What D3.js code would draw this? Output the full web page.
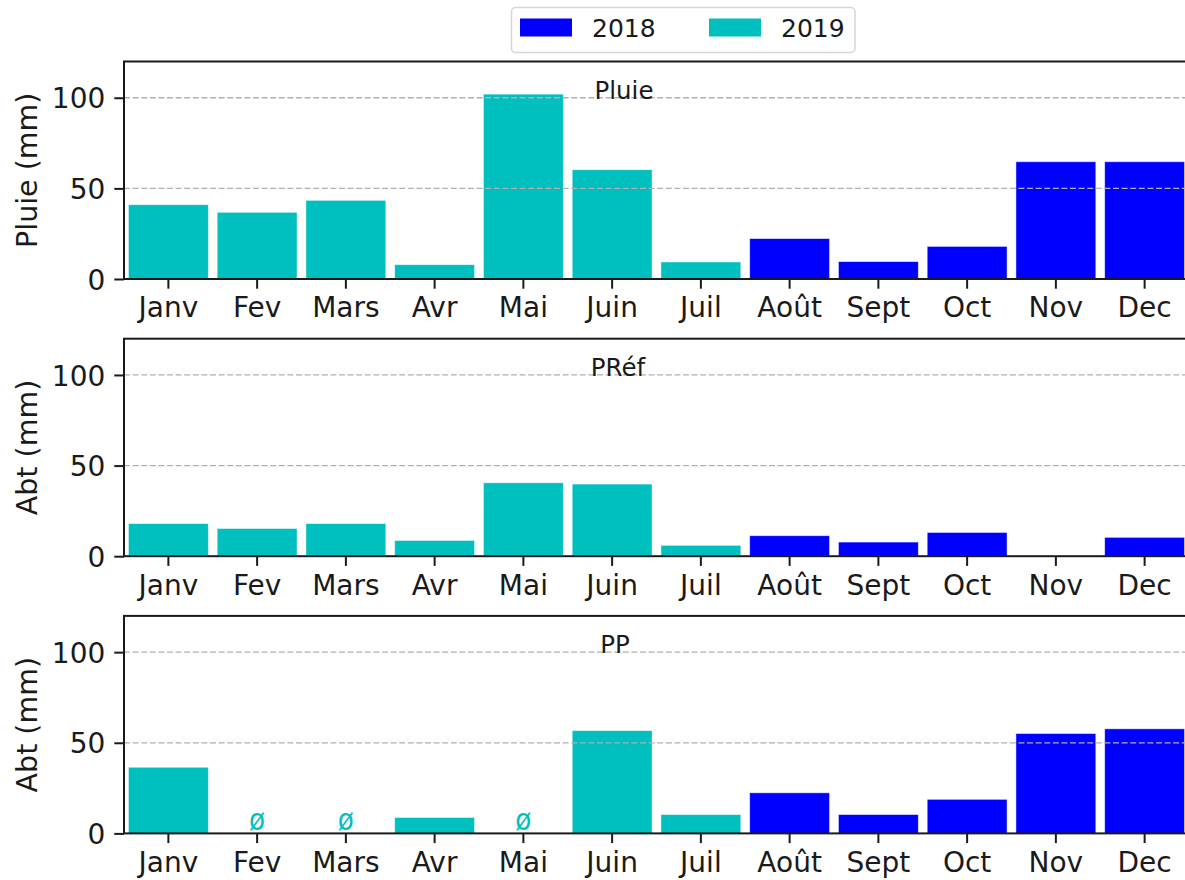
<!DOCTYPE html>
<html>
<head>
<meta charset="utf-8">
<script src="https://cdn.jsdelivr.net/npm/d3@7"></script>
<style>
  html, body { margin: 0; padding: 0; background: #fff; overflow: hidden; }
  svg { display: block; font-family: "DejaVu Sans", sans-serif; }
</style>
</head>
<body>
<svg id="chart" width="1185" height="880"></svg>
<script>
// Monthly totals (mm), campaign running from Janv 2019 back to Août–Dec 2018
const months = ["Janv", "Fev", "Mars", "Avr", "Mai", "Juin", "Juil", "Août", "Sept", "Oct", "Nov", "Dec"];
const monthYear = [2019, 2019, 2019, 2019, 2019, 2019, 2019, 2018, 2018, 2018, 2018, 2018];
const years = [2018, 2019];
const yearColors = ["#0000ff", "#00bfbf"];

const pluie = [41.0, 36.8, 43.4, 7.9, 102.0, 60.3, 9.4, 22.3, 9.6, 18.0, 64.7, 64.7];
const pref  = [18.0, 15.3, 18.0, 8.7, 40.5, 39.8, 6.0, 11.3, 7.8, 13.1, null, 10.4];
const pp    = [36.5, 0, 0, 8.8, 0, 56.7, 10.4, 22.4, 10.4, 18.8, 55.1, 57.7];

const panelTitles = ["Pluie", "PRéf", "PP"];
const panelYLabels = ["Pluie (mm)", "Abt (mm)", "Abt (mm)"];
const panelSeries = [pluie, pref, pp];
const yTicks = [0, 50, 100];
const yMax = 120;

// ---- layout ----
const left = 124, right = 1189;
const panelTop0 = 61.5, panelStep = 277.2, panelH = 217.5;
const titleX = [624, 618, 615];
const tickFont = 28, labelFont = 28.5, titleFont = 24.5, legendFont = 25;
const ink = "#1a1a1a";

const svg = d3.select("#chart");
const color = d3.scaleOrdinal().domain(years).range(yearColors);

const x = d3.scaleBand()
  .domain(months)
  .range([left, right])
  .paddingInner(0.1)
  .paddingOuter(0.05);

panelSeries.forEach((series, i) => {
  const top = panelTop0 + i * panelStep;
  const bottom = top + panelH;
  const y = d3.scaleLinear().domain([0, yMax]).range([bottom, top]);
  const g = svg.append("g");

  const rows = months.map((m, k) => ({ m, v: series[k], year: monthYear[k] }));

  // bars
  g.selectAll("rect.bar")
    .data(rows.filter(d => d.v != null && d.v > 0))
    .join("rect")
    .attr("class", "bar")
    .attr("x", d => x(d.m))
    .attr("width", x.bandwidth())
    .attr("y", d => y(d.v))
    .attr("height", d => y(0) - y(d.v))
    .attr("fill", d => color(d.year))
    .attr("stroke", "#ffffff")
    .attr("stroke-opacity", 0.6)
    .attr("stroke-width", 0.8);

  // empty-month markers
  g.selectAll("text.empty")
    .data(rows.filter(d => d.v === 0))
    .join("text")
    .attr("class", "empty")
    .attr("transform", d => `translate(${x(d.m) + x.bandwidth() / 2},${y(0) - 3}) scale(0.85,1)`)
    .attr("text-anchor", "middle")
    .attr("font-size", 31)
    .attr("fill", d => color(d.year))
    .text("ø");

  // dashed horizontal grid, above the bars
  g.selectAll("line.grid")
    .data(yTicks.filter(t => t > 0))
    .join("line")
    .attr("class", "grid")
    .attr("x1", left).attr("x2", right)
    .attr("y1", d => y(d)).attr("y2", d => y(d))
    .attr("stroke", "#b0b0b0")
    .attr("stroke-width", 1.3)
    .attr("stroke-dasharray", "6,2.6");

  // panel title sitting on the 100 line
  g.append("text")
    .attr("x", titleX[i])
    .attr("y", y(100) + 1)
    .attr("text-anchor", "middle")
    .attr("font-size", titleFont)
    .attr("fill", ink)
    .text(panelTitles[i]);

  // y axis
  const yAxis = d3.axisLeft(y).tickValues(yTicks).tickSize(9.7).tickPadding(9);
  const ya = g.append("g").attr("transform", `translate(${left},0)`).call(yAxis);
  ya.select(".domain").remove();
  ya.selectAll(".tick line").attr("stroke", ink).attr("stroke-width", 2);
  ya.selectAll(".tick text")
    .attr("font-size", tickFont)
    .attr("font-family", "DejaVu Sans")
    .attr("fill", ink)
    .attr("dy", "0.36em");

  // x axis
  const xAxis = d3.axisBottom(x).tickSize(9.7).tickPadding(8.5);
  const xa = g.append("g").attr("transform", `translate(0,${bottom})`).call(xAxis);
  xa.select(".domain").remove();
  xa.selectAll(".tick line").attr("stroke", ink).attr("stroke-width", 2);
  xa.selectAll(".tick text")
    .attr("font-size", tickFont)
    .attr("font-family", "DejaVu Sans")
    .attr("fill", ink)
    .attr("dy", "0.72em");

  // frame
  g.append("rect")
    .attr("x", left).attr("y", top)
    .attr("width", right - left).attr("height", panelH)
    .attr("fill", "none")
    .attr("stroke", ink)
    .attr("stroke-width", 2);

  // y label
  g.append("text")
    .attr("transform", `translate(27,${(top + bottom) / 2}) rotate(-90)`)
    .attr("text-anchor", "middle")
    .attr("dy", "0.36em")
    .attr("font-size", labelFont)
    .attr("fill", ink)
    .text(panelYLabels[i]);
});

// legend
const lg = svg.append("g");
lg.append("rect")
  .attr("x", 511.5).attr("y", 7.5)
  .attr("width", 343.5).attr("height", 45)
  .attr("rx", 4)
  .attr("fill", "#fff")
  .attr("stroke", "#d6d6d6")
  .attr("stroke-width", 1.5);
const legendX = [520, 709];
years.forEach((yr, k) => {
  lg.append("rect")
    .attr("x", legendX[k]).attr("y", 18.5)
    .attr("width", 52).attr("height", 18)
    .attr("fill", color(yr));
  lg.append("text")
    .attr("x", legendX[k] + 72).attr("y", 37)
    .attr("font-size", legendFont)
    .attr("fill", ink)
    .text(yr);
});
</script>
</body>
</html>
